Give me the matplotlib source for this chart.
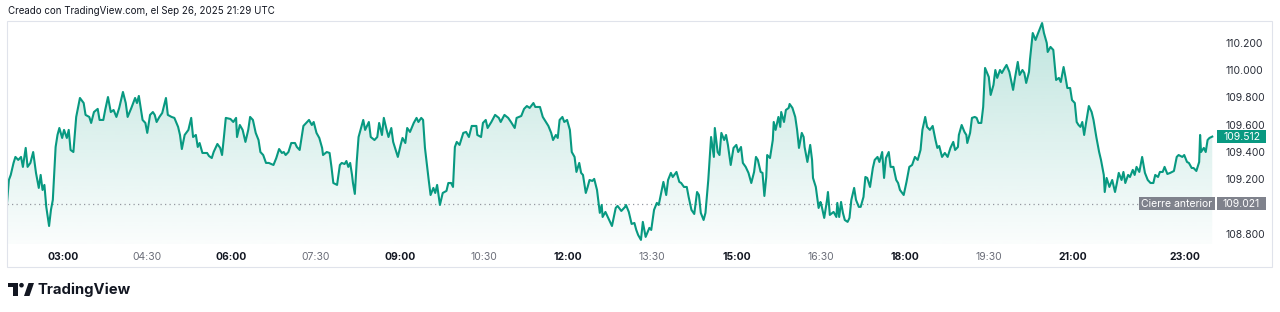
import numpy as np
import matplotlib.pyplot as plt
from matplotlib.colors import to_rgb
from matplotlib.patches import Rectangle, Ellipse, Polygon

plt.rcParams['font.family'] = ['Inter', 'DejaVu Sans']

# ==========================================
# Data
# ==========================================

HEADER = "Creado con TradingView.com, el Sep 26, 2025 21:29 UTC"

# minutes since 00:00 (local chart time)
minutes = [
    120, 122, 124, 127, 129, 132, 135, 137, 140, 142,
    145, 148, 151, 154, 156, 158, 160, 162, 165, 167,
    169, 172, 174, 176, 179, 181, 184, 186, 188, 191,
    194, 198, 202, 204, 208, 210, 213, 217, 219, 223,
    225, 228, 231, 234, 237, 240, 244, 247, 249, 253,
    257, 259, 261, 265, 268, 270, 273, 276, 278, 280,
    283, 286, 290, 292, 296, 299, 303, 305, 307, 310,
    314, 317, 319, 322, 324, 326, 329, 334, 336, 339,
    341, 345, 348, 350, 352, 354, 359, 362, 365, 366,
    369, 372, 375, 378, 380, 383, 386, 389, 391, 394,
    397, 400, 405, 408, 411, 414, 416, 418, 421, 424,
    428, 430, 433, 437, 441, 443, 446, 448, 451, 454,
    457, 458, 462, 465, 467, 469, 473, 476, 478, 481,
    483, 485, 487, 489, 490, 492, 494, 496, 501, 503,
    507, 509, 513, 516, 518, 521, 523, 526, 528, 531,
    533, 535, 538, 541, 543, 546, 548, 551, 555, 558,
    560, 563, 565, 567, 571, 573, 576, 578, 580, 583,
    586, 590, 592, 595, 597, 599, 601, 604, 608, 611,
    614, 617, 622, 623, 627, 629, 632, 634, 638, 642,
    646, 648, 652, 656, 659, 663, 665, 670, 673, 676,
    679, 683, 685, 690, 693, 697, 699, 702, 704, 707,
    709, 711, 714, 716, 719, 722, 724, 727, 729, 732,
    734, 736, 739, 741, 743, 746, 748, 751, 754, 756,
    757, 760, 764, 767, 771, 773, 777, 781, 782, 785,
    788, 791, 793, 795, 798, 800, 803, 807, 809, 812,
    815, 817, 822, 825, 827, 830, 832, 836, 839, 841,
    844, 847, 849, 852, 855, 858, 860, 862, 865, 867,
    870, 873, 876, 877, 880, 882, 884, 887, 889, 891,
    894, 897, 900, 902, 905, 907, 910, 913, 916, 919,
    921, 923, 926, 928, 930, 932, 933, 936, 939, 940,
    942, 945, 947, 948, 951, 953, 956, 957, 960, 963,
    965, 967, 970, 972, 973, 976, 979, 981, 982, 985,
    988, 990, 991, 994, 997, 998, 1000, 1004, 1007, 1008,
    1010, 1012, 1014, 1016, 1019, 1021, 1023, 1026, 1028, 1031,
    1033, 1036, 1038, 1040, 1043, 1046, 1048, 1051, 1053, 1056,
    1058, 1060, 1063, 1065, 1068, 1071, 1073, 1075, 1079, 1082,
    1085, 1088, 1091, 1094, 1097, 1099, 1102, 1104, 1107, 1110,
    1113, 1115, 1117, 1120, 1123, 1126, 1129, 1132, 1134, 1137,
    1138, 1141, 1144, 1146, 1147, 1150, 1152, 1155, 1157, 1159,
    1162, 1164, 1166, 1170, 1172, 1175, 1177, 1179, 1182, 1184,
    1187, 1189, 1192, 1196, 1198, 1201, 1203, 1206, 1208, 1210,
    1213, 1214, 1217, 1220, 1222, 1225, 1227, 1229, 1232, 1233,
    1236, 1239, 1240, 1242, 1245, 1247, 1250, 1252, 1254, 1257,
    1259, 1262, 1264, 1266, 1268, 1270, 1272, 1274, 1277, 1280,
    1282, 1285, 1288, 1290, 1293, 1294, 1296, 1299, 1302, 1305,
    1307, 1309, 1312, 1314, 1316, 1319, 1321, 1324, 1326, 1328,
    1331, 1334, 1337, 1340, 1343, 1346, 1348, 1351, 1353, 1356,
    1358, 1361, 1364, 1368, 1371, 1373, 1377, 1379, 1382, 1384,
    1387, 1389, 1392, 1395, 1396, 1397, 1400, 1402, 1404, 1406,
    1409,
]

prices = [
    109.024, 109.194, 109.231, 109.319, 109.363, 109.341, 109.363, 109.290, 109.429, 109.290,
    109.319, 109.399, 109.246, 109.136, 109.231, 109.121, 109.158, 108.997, 108.857, 108.975,
    109.048, 109.436, 109.524, 109.575, 109.502, 109.561, 109.502, 109.561, 109.414, 109.399,
    109.656, 109.795, 109.758, 109.671, 109.656, 109.612, 109.692, 109.715, 109.634, 109.634,
    109.707, 109.802, 109.692, 109.707, 109.656, 109.722, 109.839, 109.758, 109.656, 109.722,
    109.795, 109.758, 109.810, 109.634, 109.612, 109.539, 109.671, 109.692, 109.671, 109.619,
    109.656, 109.685, 109.795, 109.671, 109.656, 109.649, 109.583, 109.524, 109.421, 109.524,
    109.561, 109.649, 109.509, 109.524, 109.436, 109.465, 109.392, 109.392, 109.370, 109.355,
    109.399, 109.458, 109.429, 109.377, 109.509, 109.649, 109.641, 109.619, 109.649, 109.509,
    109.597, 109.561, 109.473, 109.561, 109.656, 109.634, 109.539, 109.487, 109.399, 109.377,
    109.319, 109.319, 109.304, 109.355, 109.421, 109.392, 109.399, 109.377, 109.399, 109.465,
    109.465, 109.436, 109.414, 109.590, 109.619, 109.634, 109.597, 109.619, 109.539, 109.502,
    109.429, 109.377, 109.399, 109.392, 109.290, 109.172, 109.158, 109.304, 109.319, 109.311,
    109.333, 109.290, 109.319, 109.231, 109.172, 109.092, 109.326, 109.509, 109.634, 109.561,
    109.619, 109.509, 109.487, 109.509, 109.612, 109.524, 109.649, 109.561, 109.509, 109.575,
    109.473, 109.429, 109.363, 109.451, 109.502, 109.465, 109.575, 109.546, 109.612, 109.649,
    109.619, 109.649, 109.634, 109.429, 109.194, 109.084, 109.136, 109.099, 109.158, 109.011,
    109.099, 109.114, 109.172, 109.172, 109.143, 109.436, 109.473, 109.451, 109.539, 109.546,
    109.509, 109.590, 109.590, 109.524, 109.509, 109.612, 109.634, 109.575, 109.619, 109.671,
    109.649, 109.619, 109.671, 109.649, 109.619, 109.575, 109.649, 109.663, 109.715, 109.736,
    109.722, 109.758, 109.729, 109.729, 109.656, 109.612, 109.590, 109.539, 109.487, 109.524,
    109.502, 109.634, 109.656, 109.619, 109.634, 109.561, 109.399, 109.363, 109.253, 109.319,
    109.246, 109.231, 109.099, 109.143, 109.194, 109.187, 109.202, 109.121, 108.953, 109.011,
    108.923, 108.960, 108.901, 108.857, 108.989, 109.004, 108.967, 108.997, 109.011, 108.960,
    108.872, 108.879, 108.828, 108.791, 108.755, 108.887, 108.777, 108.843, 108.828, 108.975,
    109.026, 109.011, 109.180, 109.084, 109.194, 109.246, 109.216, 109.253, 109.180, 109.172,
    109.143, 109.143, 109.070, 108.975, 108.945, 109.106, 109.084, 108.953, 108.901, 108.953,
    109.194, 109.509, 109.363, 109.575, 109.399, 109.377, 109.539, 109.487, 109.524, 109.451,
    109.304, 109.429, 109.451, 109.399, 109.436, 109.319, 109.290, 109.246, 109.172, 109.253,
    109.363, 109.341, 109.253, 109.246, 109.077, 109.216, 109.377, 109.355, 109.487, 109.619,
    109.561, 109.656, 109.583, 109.692, 109.619, 109.707, 109.722, 109.751, 109.722, 109.656,
    109.561, 109.429, 109.539, 109.509, 109.436, 109.326, 109.451, 109.341, 109.209, 109.143,
    108.989, 109.033, 109.011, 108.916, 109.048, 109.106, 108.938, 108.960, 108.923, 109.026,
    108.923, 109.033, 108.953, 108.901, 108.887, 108.916, 109.048, 109.136, 109.048, 108.997,
    108.997, 109.070, 109.216, 109.209, 109.143, 109.282, 109.341, 109.363, 109.326, 109.399,
    109.209, 109.355, 109.399, 109.290, 109.290, 109.194, 109.172, 109.121, 109.084, 109.180,
    109.290, 109.304, 109.363, 109.341, 109.414, 109.561, 109.656, 109.583, 109.561, 109.590,
    109.487, 109.429, 109.443, 109.363, 109.392, 109.363, 109.429, 109.473, 109.414, 109.436,
    109.524, 109.597, 109.546, 109.524, 109.465, 109.539, 109.649, 109.656, 109.649, 109.612,
    109.612, 109.729, 110.015, 109.949, 109.817, 109.890, 110.000, 109.942, 110.000, 109.978,
    110.015, 110.037, 109.986, 109.854, 109.942, 110.059, 109.964, 110.000, 109.978, 109.905,
    109.986, 110.073, 110.271, 110.220, 110.257, 110.308, 110.344, 110.271, 110.198, 110.132,
    110.169, 110.147, 110.073, 109.927, 109.942, 109.912, 110.022, 109.949, 109.868, 109.868,
    109.780, 109.758, 109.619, 109.597, 109.583, 109.619, 109.524, 109.612, 109.736, 109.692,
    109.634, 109.509, 109.399, 109.341, 109.231, 109.106, 109.209, 109.143, 109.194, 109.106,
    109.172, 109.246, 109.194, 109.253, 109.172, 109.231, 109.216, 109.268, 109.231, 109.290,
    109.253, 109.363, 109.246, 109.194, 109.172, 109.172, 109.231, 109.216, 109.253, 109.253,
    109.290, 109.238, 109.246, 109.260, 109.363, 109.377, 109.363, 109.377, 109.326, 109.319,
    109.282, 109.282, 109.260, 109.326, 109.524, 109.399, 109.429, 109.399, 109.487, 109.502,
    109.512,
]

PREV_CLOSE = 109.021
PREV_CLOSE_LABEL = "Cierre anterior"

time_labels = ["03:00", "04:30", "06:00", "07:30", "09:00", "10:30", "12:00",
               "13:30", "15:00", "16:30", "18:00", "19:30", "21:00", "23:00"]
time_bold = [True, False, True, False, True, False, True,
             False, True, False, True, False, True, True]

price_ticks = [108.8, 109.2, 109.4, 109.6, 109.8, 110.0, 110.2]

# ==========================================
# Style
# ==========================================

W, H = 1280, 312
LINE = "#089981"
TEXT = "#131722"
MUTED = "#6a6d78"
TAG_GRAY = "#7f828c"
FONT = 7.5


def fx(x):
    return x / W


def fy(y):
    return 1 - y / H


# ==========================================
# Figure
# ==========================================

fig = plt.figure(figsize=(W / 100, H / 100), dpi=100)
fig.patch.set_facecolor("white")

left, right, top, bottom = 7, 1216, 21, 244
ax = fig.add_axes([fx(left), fy(bottom), (right - left) / W, (bottom - top) / H])
ax.set_facecolor("none")

xlim = (120, 1413)
ylim = (108.725, 110.359)

# gradient under the line
grad = np.zeros((256, 1, 4))
grad[..., :3] = to_rgb(LINE)
grad[..., 3] = np.linspace(0.26, 0.02, 256)[:, None]
im = ax.imshow(grad, extent=[xlim[0], xlim[1], ylim[0], ylim[1]],
               origin="upper", aspect="auto", zorder=1, interpolation="bilinear")
area = ax.fill_between(minutes, prices, ylim[0], facecolor="none", edgecolor="none")
im.set_clip_path(area.get_paths()[0], transform=ax.transData)

ax.plot(minutes, prices, color=LINE, lw=1.5, zorder=3, solid_joinstyle="round")
ax.axhline(PREV_CLOSE, color="#9598a1", lw=0.9, ls=(0, (1, 2.6)), zorder=2)

ax.set_xlim(*xlim)
ax.set_ylim(*ylim)

# time axis
tick_pos = [int(t[:2]) * 60 + int(t[3:]) for t in time_labels]
ax.set_xticks(tick_pos)
ax.set_xticklabels(time_labels)
for lbl, b in zip(ax.get_xticklabels(), time_bold):
    lbl.set_fontweight("bold" if b else "normal")
    lbl.set_color(TEXT if b else MUTED)
ax.tick_params(axis="x", length=0, pad=6, labelsize=FONT)

# price axis
ax.yaxis.tick_right()
ax.set_yticks(price_ticks)
ax.set_yticklabels([f"{v:.3f}" for v in price_ticks])
ax.tick_params(axis="y", length=0, pad=7, labelsize=FONT, labelcolor="#2a2e39")

for s in ax.spines.values():
    s.set_visible(False)

# ==========================================
# Price tags
# ==========================================


def value_to_fig_y(v):
    disp = ax.transData.transform((xlim[0], v))
    return fig.transFigure.inverted().transform(disp)[1]


def tag(value, x0, x1, text, color):
    yc = value_to_fig_y(value)
    h = 13 / H
    fig.add_artist(Rectangle((fx(x0), yc - h / 2), (x1 - x0) / W, h,
                             transform=fig.transFigure, facecolor=color,
                             edgecolor="none", zorder=5))
    fig.text(fx((x0 + x1) / 2), yc, text, color="white", fontsize=FONT,
             ha="center", va="center", zorder=6)


tag(prices[-1], 1217, 1266, f"{prices[-1]:.3f}", LINE)
tag(PREV_CLOSE, 1139, 1215, PREV_CLOSE_LABEL, TAG_GRAY)
tag(PREV_CLOSE, 1217, 1266, f"{PREV_CLOSE:.3f}", TAG_GRAY)

# ==========================================
# Frame, header, logo
# ==========================================

fig.add_artist(Rectangle((fx(7), fy(267)), (1272 - 7) / W, (267 - 21) / H,
                         transform=fig.transFigure, fill=False,
                         edgecolor="#e0e3eb", lw=0.8))

fig.text(fx(8), fy(11), HEADER, fontsize=7.0, color=TEXT, ha="left", va="center")

# TradingView logo
fig.add_artist(Rectangle((fx(8), fy(287)), 10 / W, 4 / H,
                         transform=fig.transFigure, color=TEXT, lw=0))
fig.add_artist(Rectangle((fx(13), fy(296)), 5 / W, 13 / H,
                         transform=fig.transFigure, color=TEXT, lw=0))
fig.add_artist(Ellipse((fx(21.5), fy(285.2)), 4.6 / W, 4.6 / H,
                       transform=fig.transFigure, color=TEXT, lw=0))
fig.add_artist(Polygon([(fx(24), fy(296)), (fx(29.5), fy(296)),
                        (fx(34), fy(283)), (fx(28.5), fy(283))],
                       closed=True, transform=fig.transFigure, color=TEXT, lw=0))
fig.text(fx(38), fy(289.5), "TradingView", fontsize=10.7, fontweight="bold",
         color=TEXT, ha="left", va="center")

fig.savefig("out.png", dpi=100)
